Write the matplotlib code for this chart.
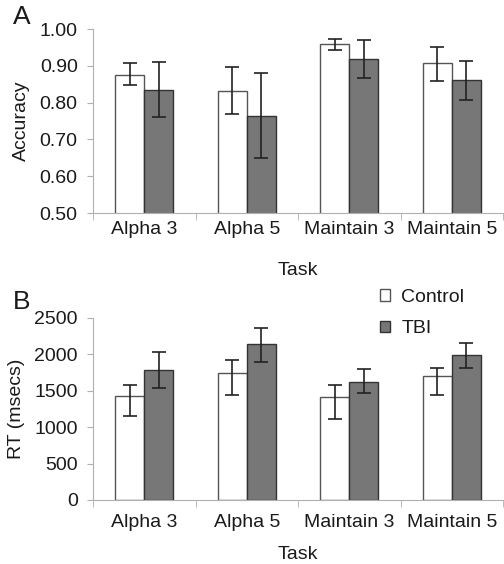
import matplotlib
matplotlib.use('Agg')
import matplotlib.pyplot as plt
import numpy as np
from matplotlib.patches import Patch

plt.rcParams['font.family'] = ['Liberation Sans', 'DejaVu Sans']

tasks = ['Alpha 3', 'Alpha 5', 'Maintain 3', 'Maintain 5']

# panel A: accuracy
acc_control = [0.876, 0.831, 0.960, 0.907]
acc_control_lo = [0.849, 0.769, 0.944, 0.860]
acc_control_hi = [0.907, 0.896, 0.973, 0.952]
acc_tbi = [0.834, 0.764, 0.918, 0.862]
acc_tbi_lo = [0.762, 0.650, 0.866, 0.807]
acc_tbi_hi = [0.910, 0.880, 0.969, 0.914]

# panel B: reaction time
rt_control = [1424, 1745, 1410, 1700]
rt_control_lo = [1149, 1446, 1111, 1442]
rt_control_hi = [1584, 1920, 1584, 1818]
rt_tbi = [1782, 2140, 1625, 1993]
rt_tbi_lo = [1534, 1892, 1465, 1818]
rt_tbi_hi = [2030, 2365, 1796, 2154]

txt = '#1a1a1a'
axcol = '#b0b0b0'
tbi_col = '#777777'
fs = 14

fig = plt.figure(figsize=(5.04, 5.64), dpi=100)
axA = fig.add_axes([93/504, 1-213/564, 410/504, 184/564])
axB = fig.add_axes([93/504, 1-500/564, 410/504, 182/564])

w = 0.285
x = np.arange(len(tasks))


def draw(ax, ctrl, clo, chi, tbi, tlo, thi, xpad, lpad):
    ctrl = np.array(ctrl); tbi = np.array(tbi)
    ax.bar(x - w/2, ctrl, w, color='white', edgecolor='#555555', linewidth=1.0, zorder=2)
    ax.bar(x + w/2, tbi, w, color=tbi_col, edgecolor='#333333', linewidth=1.0, zorder=2)
    ax.errorbar(x - w/2, ctrl, yerr=[ctrl - np.array(clo), np.array(chi) - ctrl],
                fmt='none', ecolor='#222222', elinewidth=1.2, capsize=5, capthick=1.2, zorder=3)
    ax.errorbar(x + w/2, tbi, yerr=[tbi - np.array(tlo), np.array(thi) - tbi],
                fmt='none', ecolor='#222222', elinewidth=1.2, capsize=5, capthick=1.2, zorder=3)
    ax.set_xlim(-0.5, 3.5)
    ax.set_xticks(x)
    ax.set_xticklabels(tasks, fontsize=fs, color=txt)
    ax.set_xticks(np.arange(-0.5, 4.0, 1.0), minor=True)
    ax.tick_params(axis='x', which='major', length=0, pad=xpad)
    ax.tick_params(axis='x', which='minor', length=5, color=axcol, direction='out')
    ax.tick_params(axis='y', length=4, color=axcol, labelsize=fs, labelcolor=txt, pad=7)
    for s in ['top', 'right']:
        ax.spines[s].set_visible(False)
    for s in ['left', 'bottom']:
        ax.spines[s].set_color(axcol)
        ax.spines[s].set_linewidth(0.8)
    ax.set_xlabel('Task', fontsize=fs, color=txt, labelpad=lpad)


draw(axA, acc_control, acc_control_lo, acc_control_hi, acc_tbi, acc_tbi_lo, acc_tbi_hi, 6, 17)
axA.set_ylim(0.5, 1.0)
axA.set_yticks(np.arange(0.5, 1.01, 0.1))
axA.set_yticklabels(['%.2f' % v for v in np.arange(0.5, 1.01, 0.1)])
axA.set_ylabel('Accuracy', fontsize=fs, color=txt, labelpad=7)

draw(axB, rt_control, rt_control_lo, rt_control_hi, rt_tbi, rt_tbi_lo, rt_tbi_hi, 10, 11)
axB.set_ylim(0, 2500)
axB.set_yticks(np.arange(0, 2501, 500))
axB.set_ylabel('RT (msecs)', fontsize=fs, color=txt, labelpad=7)

fig.text(22/504, 1-17/564, 'A', fontsize=19, color=txt, ha='center', va='center')
fig.text(22/504, 1-302/564, 'B', fontsize=19, color=txt, ha='center', va='center')

handles = [Patch(facecolor='white', edgecolor='#555555', label='Control'),
           Patch(facecolor=tbi_col, edgecolor='#333333', label='TBI')]
fig.legend(handles=handles, loc='upper left', bbox_to_anchor=(372/504, 1-281/564),
           frameon=False, fontsize=fs, handlelength=0.55, handleheight=0.55,
           handletextpad=0.55, labelspacing=0.75, labelcolor=txt, borderaxespad=0)

fig.savefig('out.png', dpi=100)
